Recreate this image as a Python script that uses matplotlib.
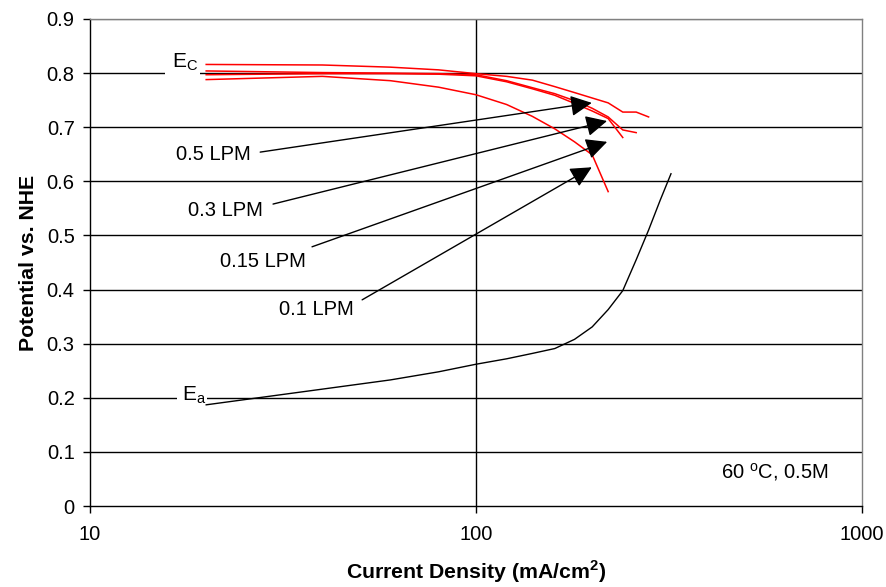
import matplotlib
matplotlib.use("Agg")
import matplotlib.pyplot as plt
from matplotlib.patches import Rectangle

plt.rcParams['font.family'] = ['Liberation Sans', 'DejaVu Sans']
plt.rcParams['mathtext.fontset'] = 'custom'
plt.rcParams['mathtext.rm'] = 'Liberation Sans'
plt.rcParams['mathtext.bf'] = 'Liberation Sans:bold'

# ---- data ----
x_05 = [20, 40, 60, 80, 100, 120, 140, 160, 180, 200, 220, 240, 260, 280]
ec_05 = [0.816, 0.815, 0.811, 0.806, 0.799, 0.794, 0.787, 0.775, 0.764, 0.754, 0.745, 0.728, 0.728, 0.719]
x_03 = [20, 40, 60, 80, 100, 120, 140, 160, 180, 200, 220, 240, 260]
ec_03 = [0.804, 0.801, 0.800, 0.799, 0.797, 0.786, 0.773, 0.762, 0.749, 0.735, 0.719, 0.695, 0.690]
x_015 = [20, 40, 60, 80, 100, 120, 140, 160, 180, 200, 220, 240]
ec_015 = [0.797, 0.799, 0.799, 0.798, 0.795, 0.784, 0.771, 0.759, 0.744, 0.730, 0.716, 0.681]
x_01 = [20, 40, 60, 80, 100, 120, 140, 160, 180, 200, 220]
ec_01 = [0.788, 0.794, 0.786, 0.774, 0.760, 0.742, 0.720, 0.697, 0.673, 0.649, 0.581]
x_a = [20, 40, 60, 80, 100, 120, 140, 160, 180, 200, 220, 240, 260, 280, 300, 320]
ea = [0.187, 0.216, 0.233, 0.248, 0.262, 0.272, 0.282, 0.291, 0.308, 0.331, 0.363, 0.398, 0.455, 0.51, 0.565, 0.614]

flow_labels = ['0.5 LPM', '0.3 LPM', '0.15 LPM', '0.1 LPM']
label_pos = [(20.9, 0.649), (22.4, 0.547), (28.1, 0.451), (38.5, 0.364)]
arrow_tail = [(27.6, 0.654), (29.8, 0.558), (37.6, 0.479), (50.7, 0.381)]
arrow_tip = [(199.5, 0.745), (218.5, 0.7115), (218.7, 0.673), (199.5, 0.626)]

yticks = [0, 0.1, 0.2, 0.3, 0.4, 0.5, 0.6, 0.7, 0.8, 0.9]
ytick_labels = ['0', '0.1', '0.2', '0.3', '0.4', '0.5', '0.6', '0.7', '0.8', '0.9']
xticks = [10, 100, 1000]
xtick_labels = ['10', '100', '1000']

fig = plt.figure(figsize=(8.86, 5.87), dpi=100)
ax = fig.add_axes([90/886, 81/587, 772/886, 487/587])
ax.set_xscale('log')
ax.set_xlim(10, 1000)
ax.set_ylim(0, 0.9)

for yv in yticks[1:]:
    ax.axhline(yv, color='black' if yv < 0.85 else '#808080', lw=1, zorder=1)
ax.axvline(100, color='black', lw=1, zorder=1)

# gaps in the gridlines behind the E labels
ax.add_patch(Rectangle((15.6, 0.79), 19.3 - 15.6, 0.02, fc='white', ec='none', zorder=2))
ax.add_patch(Rectangle((16.8, 0.19), 20.1 - 16.8, 0.02, fc='white', ec='none', zorder=2))

for xs, ys in [(x_05, ec_05), (x_03, ec_03), (x_015, ec_015), (x_01, ec_01)]:
    ax.plot(xs, ys, color='#ff0000', lw=1.1, zorder=3)
ax.plot(x_a, ea, color='black', lw=1.0, zorder=3)

for lab, lp, tl, tp in zip(flow_labels, label_pos, arrow_tail, arrow_tip):
    ax.text(lp[0], lp[1], lab, fontsize=14.5, ha='center', va='center', zorder=5)
    ax.annotate('', xy=tp, xytext=tl,
                arrowprops=dict(arrowstyle='-|>,head_length=0.65,head_width=0.32',
                                mutation_scale=20, color='black', lw=1,
                                shrinkA=0, shrinkB=0), zorder=4)

ax.text(16.3, 0.811, r'E$_{\rm C}$', fontsize=15, ha='left', va='baseline', zorder=5)
ax.text(17.35, 0.196, r'E$_{\rm a}$', fontsize=15, ha='left', va='baseline', zorder=5)

ax.text(595, 0.063, r'60 $^{\rm o}$C, 0.5M', fontsize=14.5, ha='center', va='center')

ax.set_yticks(yticks)
ax.set_yticklabels(ytick_labels, fontsize=14.5)
ax.set_xticks(xticks)
ax.set_xticklabels(xtick_labels, fontsize=14.5)
ax.minorticks_off()
ax.tick_params(axis='both', direction='out', length=5, width=1, color='black')
ax.tick_params(axis='x', pad=9)
ax.tick_params(axis='y', pad=6)

for s in ['top', 'right']:
    ax.spines[s].set_color('#808080')
    ax.spines[s].set_linewidth(1)
for s in ['left', 'bottom']:
    ax.spines[s].set_color('black')
    ax.spines[s].set_linewidth(1)

ax.set_xlabel(r'Current Density (mA/cm$^\mathbf{2}$)', fontsize=15.3, fontweight='bold', labelpad=10)
ax.set_ylabel('Potential vs. NHE', fontsize=15.3, fontweight='bold', labelpad=6)

fig.savefig('out.png', dpi=100)
